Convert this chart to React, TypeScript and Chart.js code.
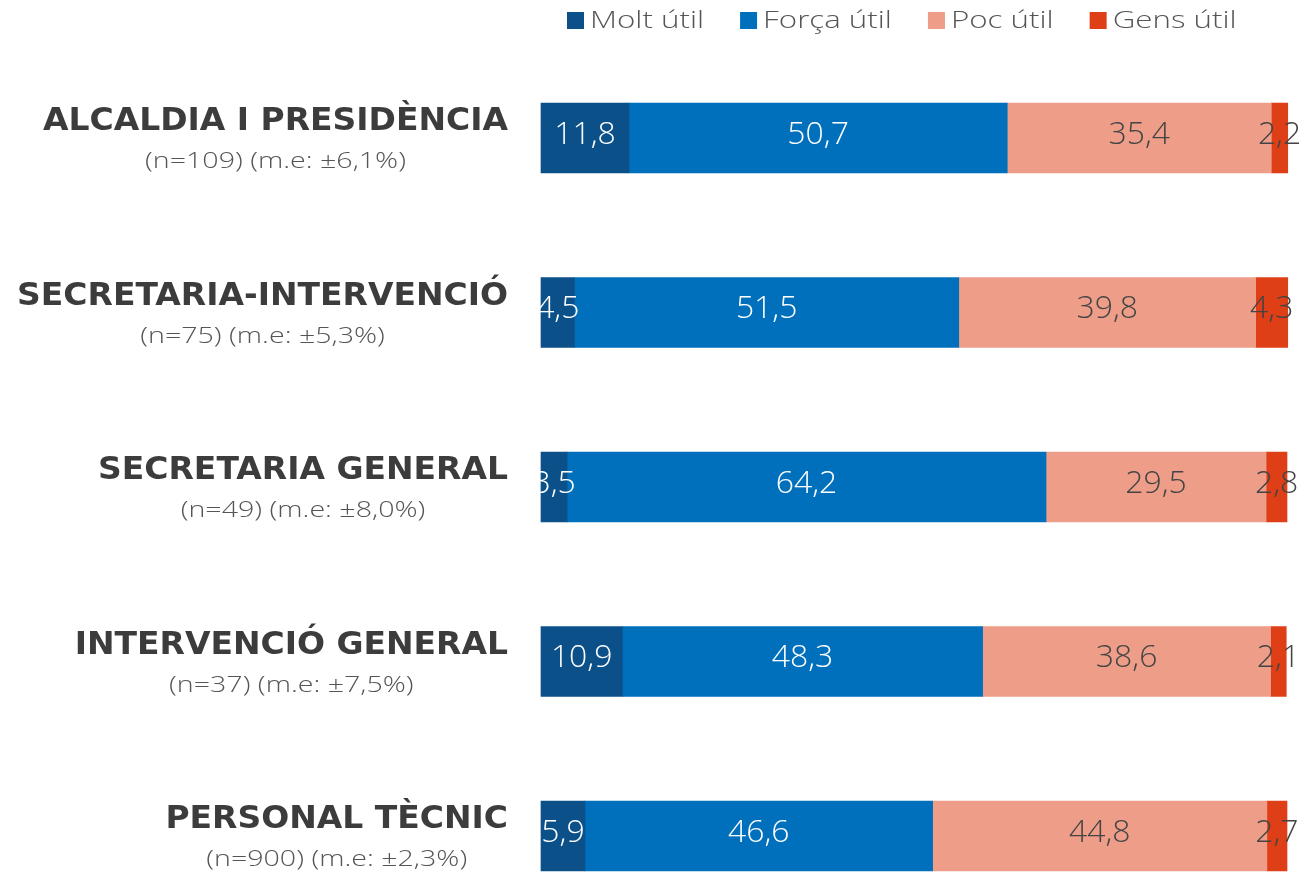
import React, { useEffect, useRef } from "react";
import { Chart, registerables } from "chart.js";

Chart.register(...registerables);

const categoryTitles = [
  "ALCALDIA I PRESIDÈNCIA",
  "SECRETARIA-INTERVENCIÓ",
  "SECRETARIA GENERAL",
  "INTERVENCIÓ GENERAL",
  "PERSONAL TÈCNIC",
];
const categorySubtitles = [
  "(n=109) (m.e: ±6,1%)",
  "(n=75) (m.e: ±5,3%)",
  "(n=49) (m.e: ±8,0%)",
  "(n=37) (m.e: ±7,5%)",
  "(n=900) (m.e: ±2,3%)",
];
const seriesNames = ["Molt útil", "Força útil", "Poc útil", "Gens útil"];
const moltUtil = [11.8, 4.5, 3.5, 10.9, 5.9];
const forcaUtil = [50.7, 51.5, 64.2, 48.3, 46.6];
const pocUtil = [35.4, 39.8, 29.5, 38.6, 44.8];
const gensUtil = [2.2, 4.3, 2.8, 2.1, 2.7];
const seriesColors = ["#0b5089", "#0070bd", "#ee9e88", "#de3f16"];
const labelColors = ["#ffffff", "#ffffff", "#444444", "#444444"];

const LIGHT_FONT = "'Open Sans', 'Noto Sans', sans-serif";
const BOLD_FONT = "'DejaVu Sans', 'Noto Sans', sans-serif";

const fmt = (v: number) => v.toFixed(1).replace(".", ",");

function drawScaled(
  ctx: CanvasRenderingContext2D,
  text: string,
  x: number,
  y: number,
  align: CanvasTextAlign,
  sx: number
) {
  ctx.save();
  ctx.translate(x, y);
  ctx.scale(sx, 1);
  ctx.textAlign = align;
  ctx.textBaseline = "middle";
  ctx.fillText(text, 0, 0);
  ctx.restore();
  return ctx.measureText(text).width * sx;
}

const customPlugin = {
  id: "customDraw",
  afterDatasetsDraw(chart: any) {
    const ctx = chart.ctx as CanvasRenderingContext2D;
    const area = chart.chartArea;
    ctx.save();
    // data labels
    chart.data.datasets.forEach((ds: any, di: number) => {
      const meta = chart.getDatasetMeta(di);
      meta.data.forEach((el: any, i: number) => {
        const p = el.getProps(["x", "base", "y"], true);
        const cx = (p.x + p.base) / 2;
        ctx.font = `300 31px ${LIGHT_FONT}`;
        ctx.fillStyle = labelColors[di];
        drawScaled(ctx, fmt(ds.data[i]), cx, p.y - 3, "center", 1.03);
      });
    });
    // category labels
    const yScale = chart.scales.y;
    const rightX = area.left - 33;
    categoryTitles.forEach((t, i) => {
      const yc = yScale.getPixelForValue(i);
      ctx.font = `bold 32px ${BOLD_FONT}`;
      ctx.fillStyle = "#3c3c3c";
      const titleScale = 1.03;
      const w = ctx.measureText(t).width * titleScale;
      drawScaled(ctx, t, rightX, yc - 16, "right", titleScale);
      ctx.font = `300 22px ${LIGHT_FONT}`;
      ctx.fillStyle = "#555555";
      drawScaled(ctx, categorySubtitles[i], rightX - w / 2, yc + 24, "center", 1.3);
    });
    // legend
    let lx = 559;
    const ly = 12;
    ctx.font = `300 23px ${LIGHT_FONT}`;
    seriesNames.forEach((name, i) => {
      ctx.fillStyle = seriesColors[i];
      ctx.fillRect(lx, ly - 8, 17, 17);
      ctx.fillStyle = "#555555";
      const tw = drawScaled(ctx, name, lx + 23, ly + 1, "left", 1.36);
      lx += 23 + tw + 36;
    });
    ctx.restore();
  },
};

export default function App() {
  const ref = useRef<HTMLCanvasElement>(null);
  useEffect(() => {
    if (!ref.current) return;
    const series = [moltUtil, forcaUtil, pocUtil, gensUtil];
    const chart = new Chart(ref.current, {
      type: "bar",
      data: {
        labels: categoryTitles,
        datasets: series.map((d, i) => ({
          label: seriesNames[i],
          data: d,
          backgroundColor: seriesColors[i],
          borderWidth: 0,
          barThickness: 70,
          clip: false as any,
        })),
      },
      options: {
        indexAxis: "y",
        animation: false,
        responsive: false,
        maintainAspectRatio: false,
        layout: { padding: { left: 533, right: 17, top: 130, bottom: 37 } },
        plugins: {
          legend: { display: false },
          tooltip: { enabled: false },
        },
        scales: {
          x: { stacked: true, min: 0, max: 100, display: false },
          y: { stacked: true, display: false, offset: false, grid: { offset: false } },
        },
      },
      plugins: [customPlugin],
    });
    return () => chart.destroy();
  }, []);
  return <canvas ref={ref} width={1296} height={865} style={{ display: "block" }} />;
}
